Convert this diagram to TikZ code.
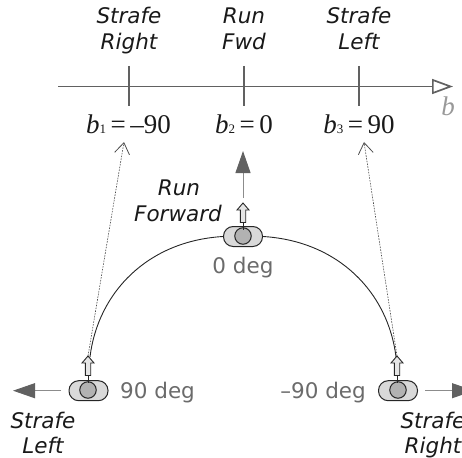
\documentclass[tikz,border=0pt]{standalone}
\usepackage{fontspec}
\setmainfont{DejaVu Sans}
\newfontfamily\mathserif{Liberation Serif}
\usetikzlibrary{arrows.meta,calc}
\definecolor{axisgray}{gray}{0.38}
\definecolor{labgray}{gray}{0.42}
\tikzset{x=1pt,y=-1pt,
 act/.style={font=\fontsize{21.5}{25}\selectfont\itshape,align=center,text=black!90,inner sep=0pt,anchor=base},
 deg/.style={font=\fontsize{21.5}{25}\selectfont,text=labgray,inner sep=0pt},
 val/.style={font=\fontsize{27}{30}\mathserif,inner sep=0pt,anchor=base,text=black!90},
 tick/.style={draw=axisgray,line width=1.7pt},
 bigarrow/.style={draw=black!45,line width=1pt,-{Triangle[length=22pt,width=15pt,color=black!62]}},
 dotarrow/.style={draw=black!70,line width=0.6pt,dash pattern=on 1.6pt off 1.2pt,-{Straight Barb[length=11pt,width=15pt,line width=.8pt]}},
 capsule/.style={draw=black!85,fill=black!15,line width=1pt,rounded corners=9.7pt,minimum width=39pt,minimum height=20pt,inner sep=0pt},
 ball/.style={circle,draw=black!85,fill=black!30,line width=1pt,minimum size=16.5pt,inner sep=0pt},
 hollow/.style={draw=black!85,fill=black!10,line width=.9pt,line join=miter},
 stem/.style={draw=black!85,line width=.9pt}
}
\begin{document}
\begin{tikzpicture}
\useasboundingbox (0,0) rectangle (462,457);
\clip (0,0) rectangle (462,457);
% axis
\coordinate (axs) at (58,86.5);
\coordinate (axe) at (453,86.5);
\draw[draw=axisgray,line width=1.7pt,-{Triangle[open,length=21pt,width=15pt,line width=1.7pt]}] (axs) -- (axe);
\foreach \n/\x in {t1/129,t2/244,t3/359}{
 \coordinate (\n a) at (\x,66);
 \coordinate (\n b) at (\x,106);
 \draw[tick] (\n a) -- (\n b);
}
\node[act] (sr) at (129,24) {Strafe};
\node[act] (sr2) at (129,50) {Right};
\node[act] (rf) at (244,24) {Run};
\node[act] (rf2) at (244,50) {Fwd};
\node[act] (sl) at (359,24) {Strafe};
\node[act] (sl2) at (359,50) {Left};
\node[font=\fontsize{27}{30}\mathserif\itshape,text=black!40,inner sep=0pt,anchor=base] (bl) at (448,116) {b};
\node[val] (b1) at (128.5,133) {\textit{b}\raisebox{-1pt}{\fontsize{13}{13}\selectfont 1}\,=\,–90};
\node[val] (b2) at (244,133) {\textit{b}\raisebox{-1pt}{\fontsize{13}{13}\selectfont 2}\,=\,0};
\node[val] (b3) at (359,133) {\textit{b}\raisebox{-1pt}{\fontsize{13}{13}\selectfont 3}\,=\,90};
% arc
\coordinate (al) at (90,357);
\coordinate (ar) at (396,357);
\node[capsule] (cm) at (243,236.5) {};
\node[ball] (bm) at (243,236) {};
\node[capsule] (cl) at (88.5,390.7) {};
\node[ball] (bl1) at (88,390) {};
\node[capsule] (cr) at (398,390.7) {};
\node[ball] (br1) at (398,390) {};
\draw[stem] (al) .. controls (98,292) and (148,241) .. (cm.west);
\draw[stem] (cm.east) .. controls (338,241) and (388,292) .. (ar);
% dotted arrows
\coordinate (dl) at (88,356);
\coordinate (dr) at (397,356);
\coordinate (dlt) at (124,142);
\coordinate (drt) at (364,142);
\draw[dotarrow] (dl) -- (dlt);
\draw[dotarrow] (dr) -- (drt);
% hollow arrows
\foreach \n/\x/\y in {m/243/203,l/88/356,r/397/356}{
 \coordinate (e\n) at (\x,\y);
 \coordinate (s\n) at (\x,\y+27);
 \draw[stem] ($(e\n)+(0,19)$) -- (s\n);
 \draw[hollow] (e\n) -- ++(6,7) -- ++(-3.3,0) -- ++(0,12.5) -- ++(-5.4,0) -- ++(0,-12.5) -- ++(-3.3,0) -- cycle;
}
% motion arrows
\coordinate (mf) at (243,198);
\coordinate (mft) at (243,151);
\coordinate (ml) at (61,390.7);
\coordinate (mlt) at (13,390.7);
\coordinate (mr) at (425,390.7);
\coordinate (mrt) at (474,390.7);
\draw[bigarrow] (mf) -- (mft);
\draw[bigarrow] (ml) -- (mlt);
\draw[bigarrow] (mr) -- (mrt);
% labels
\node[act] (rn) at (179,195) {Run};
\node[act,anchor=base east] (fw) at (222,221) {Forward};
\node[deg,anchor=base] (d0) at (243,273) {0 deg};
\node[deg,anchor=base west] (d90) at (120,398) {90 deg};
\node[deg,anchor=base east] (dm) at (366,398) {–90 deg};
\node[act] (ls) at (43,428) {Strafe};
\node[act] (ll) at (43,453) {Left};
\node[act] (rs) at (433,428) {Strafe};
\node[act] (rr) at (433,453) {Right};
\end{tikzpicture}
\end{document}
